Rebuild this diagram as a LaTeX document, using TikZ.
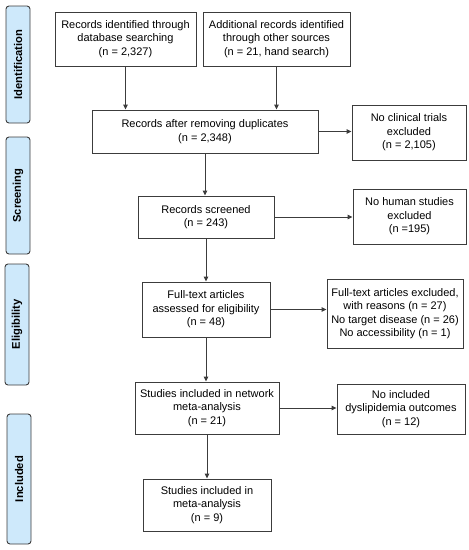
\documentclass[tikz,border=0pt]{standalone}
\usepackage{fontspec}
\setmainfont{Liberation Sans}
\usetikzlibrary{arrows.meta}
\definecolor{sidefill}{RGB}{206,233,251}
\definecolor{edge}{RGB}{60,60,60}
\tikzset{
  box/.style={draw=edge, line width=0.9pt, fill=white, align=center, inner sep=0pt,
    font=\fontsize{11}{13.4}\selectfont},
  side/.style={draw=edge, line width=0.9pt, fill=sidefill, rounded corners=3pt, inner sep=0pt},
  sidelabel/.style={rotate=90, font=\fontsize{11.2}{12}\selectfont\bfseries},
  arr/.style={draw=edge, line width=0.9pt, -{Triangle[length=5pt,width=4.5pt]}}
}
\begin{document}
\begin{tikzpicture}[x=1pt,y=-1pt]
\useasboundingbox (0,0) rectangle (469,550);
% sidebars
\node[side, minimum width=24pt, minimum height=117pt] (s1) at (18,64.5) {};
\node[sidelabel] (s1t) at (s1.center) {Identification};
\node[side, minimum width=24pt, minimum height=117pt] (s2) at (18,195.5) {};
\node[sidelabel] (s2t) at (s2.center) {Screening};
\node[side, minimum width=24pt, minimum height=121pt] (s3) at (17,324.5) {};
\node[sidelabel] (s3t) at (s3.center) {Eligibility};
\node[side, minimum width=24pt, minimum height=130pt] (s4) at (19,479) {};
\node[sidelabel] (s4t) at (s4.center) {Included};
% boxes
\node[box, minimum width=141pt, minimum height=54pt] (b1) at (125.5,39) {Records identified through\\database searching\\(n = 2,327)};
\node[box, minimum width=147pt, minimum height=54pt] (b2) at (276.5,39) {Additional records identified\\through other sources\\(n = 21, hand search)};
\node[box, minimum width=226pt, minimum height=43pt] (b3) at (205,131.5) {Records after removing duplicates\\(n = 2,348)};
\node[box, minimum width=114pt, minimum height=55pt] (b4) at (409,132.5) {No clinical trials\\excluded\\(n = 2,105)};
\node[box, minimum width=136pt, minimum height=42pt] (b5) at (206,217) {Records screened\\(n = 243)};
\node[box, minimum width=113pt, minimum height=55pt] (b6) at (409.5,216.5) {No human studies\\excluded\\(n =195)};
\node[box, minimum width=128pt, minimum height=55pt] (b7) at (206,309.5) {Full-text articles\\assessed for eligibility\\(n = 48)};
\node[box, minimum width=136pt, minimum height=69pt] (b8) at (395,313.5) {Full-text articles excluded,\\with reasons (n = 27)\\No target disease (n = 26)\\No accessibility (n = 1)};
\node[box, minimum width=144pt, minimum height=52pt] (b9) at (207,408) {Studies included in network\\meta-analysis\\(n = 21)};
\node[box, minimum width=128pt, minimum height=50pt] (b10) at (401,409) {No included\\dyslipidemia outcomes\\(n = 12)};
\node[box, minimum width=128pt, minimum height=52pt] (b11) at (207,505) {Studies included in\\meta-analysis\\(n = 9)};
% connectors
\draw[arr] (b1.south) -- (b1.south |- b3.north);
\draw[arr] (b2.south) -- (b2.south |- b3.north);
\draw[arr] (b3.east) -- (b3.east -| b4.west);
\draw[arr] (b3.south) -- (b3.south |- b5.north);
\draw[arr] (b5.east) -- (b5.east -| b6.west);
\draw[arr] (b5.south) -- (b5.south |- b7.north);
\draw[arr] (b7.east) -- (b7.east -| b8.west);
\draw[arr] (b7.south) -- (b7.south |- b9.north);
\draw[arr] (b9.east) -- (b9.east -| b10.west);
\draw[arr] (b9.south) -- (b9.south |- b11.north);
\end{tikzpicture}
\end{document}
